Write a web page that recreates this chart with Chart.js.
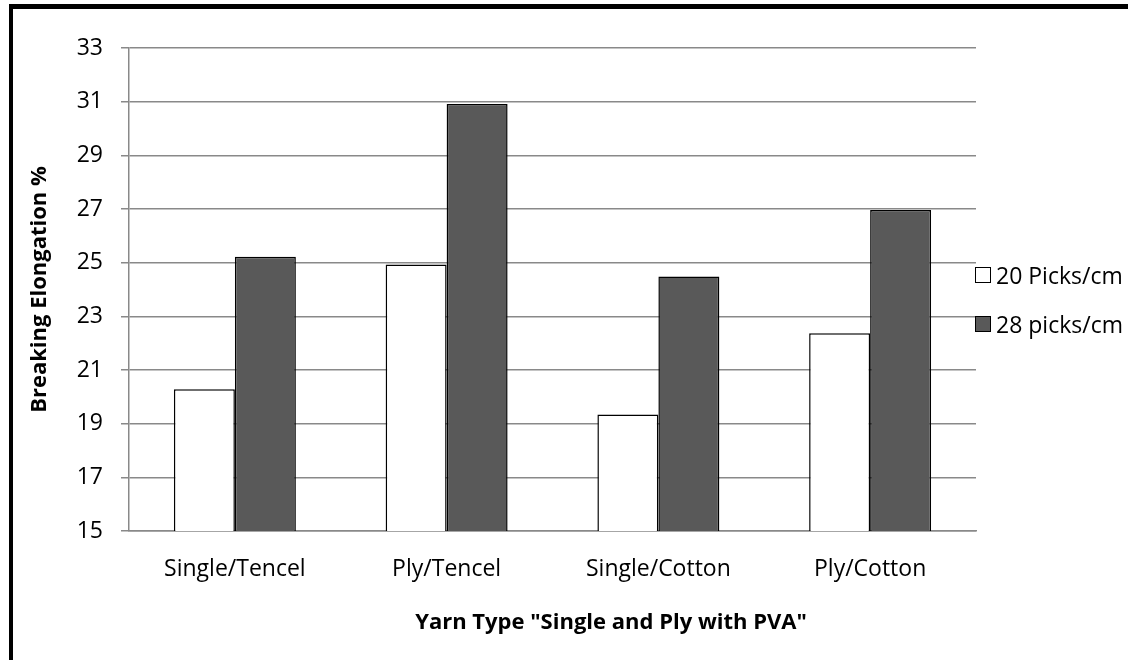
<!DOCTYPE html>
<html>
<head>
<meta charset="utf-8">
<script src="https://cdn.jsdelivr.net/npm/chart.js@4"></script>
<style>
  body { margin: 0; background: #fff; }
  #wrap { position: relative; width: 1128px; height: 660px; overflow: hidden; }
  #frame { position: absolute; left: 9px; top: 4px; width: 1200px; height: 700px;
           border-left: 4px solid #000; border-top: 5px solid #000; pointer-events: none; }
  .leg { position: absolute; left: 975px; display: flex; align-items: center; height: 24px;
         font: 23px "Open Sans", sans-serif; color: #000; white-space: nowrap; }
  .leg span { display: inline-block; box-sizing: border-box; width: 16px; height: 16px;
              border: 1.5px solid #000; margin-right: 5px; }
  #xtitle { position: absolute; left: 611px; top: 609px; transform: translateX(-50%);
            font: bold 22px "Open Sans", sans-serif; line-height: 22px; color: #000; white-space: nowrap; }
</style>
</head>
<body>
<div id="wrap">
  <canvas id="chart" width="1128" height="660"></canvas>
  <div id="frame"></div>
  <div class="leg" style="top:263px"><span style="background:#fff"></span>20 Picks/cm</div>
  <div class="leg" style="top:312px"><span style="background:#595959"></span>28 picks/cm</div>
  <div id="xtitle">Yarn Type "Single and Ply with PVA"</div>
</div>
<script>
const categories = ["Single/Tencel", "Ply/Tencel", "Single/Cotton", "Ply/Cotton"];
const picks20 = [20.28, 24.93, 19.34, 22.37];
const picks28 = [25.22, 30.91, 24.48, 26.96];
const yMin = 15, yMax = 33, yStep = 2;

const gridGrey = "#898989";
const tickFont = { family: "Open Sans", size: 23 };
const titleFont = { family: "Open Sans", size: 22, weight: "bold" };

new Chart(document.getElementById("chart"), {
  type: "bar",
  data: {
    labels: categories,
    datasets: [
      { label: "20 Picks/cm", data: picks20, backgroundColor: "#ffffff",
        borderColor: "#000", borderWidth: 1.5, borderSkipped: "bottom" },
      { label: "28 picks/cm", data: picks28, backgroundColor: "#595959",
        borderColor: "#000", borderWidth: 1.5, borderSkipped: "bottom" }
    ]
  },
  options: {
    responsive: false,
    animation: false,
    layout: { padding: { top: 48, right: 152, left: 0, bottom: 0 } },
    datasets: { bar: { categoryPercentage: 0.576, barPercentage: 1 } },
    plugins: { legend: { display: false }, tooltip: { enabled: false } },
    scales: {
      x: {
        grid: { display: false },
        border: { color: gridGrey, width: 1.5 },
        ticks: { color: "#000", font: tickFont, padding: 17 },
        // axis title is the #xtitle div: in the reference it sits right of the plot centre
        afterFit: s => { s.height = 129; }
      },
      y: {
        min: yMin, max: yMax,
        ticks: { stepSize: yStep, color: "#000", font: tickFont, padding: 18 },
        grid: { color: gridGrey, lineWidth: 1.5, tickLength: 8 },
        border: { color: gridGrey, width: 1.5 },
        title: { display: true, text: "Breaking Elongation %", color: "#000",
                 font: titleFont, padding: { top: 27, bottom: 0 } },
        afterFit: s => { s.width = 129; }
      }
    }
  }
});
</script>
</body>
</html>
